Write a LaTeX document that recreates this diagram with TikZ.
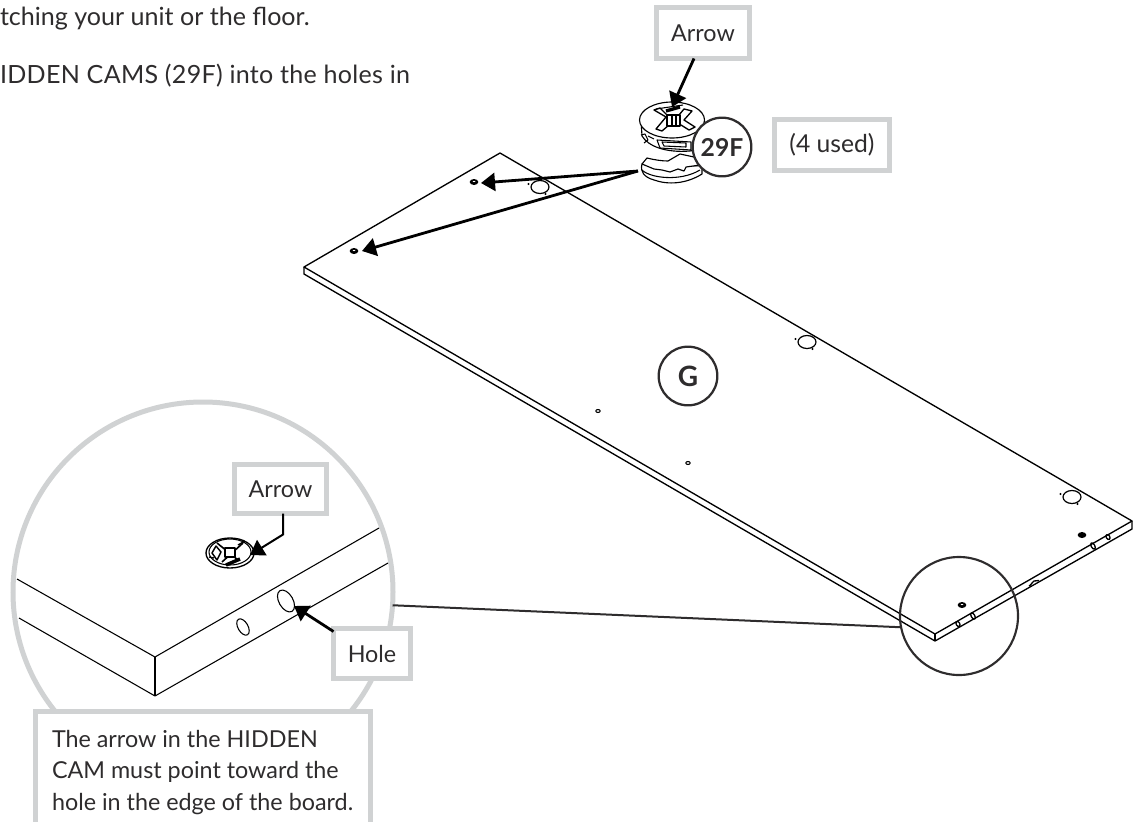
\documentclass[tikz,border=0pt]{standalone}
\usepackage{fontspec}
\setmainfont{Lato}
\usetikzlibrary{arrows.meta,shapes.geometric}
\definecolor{ink}{HTML}{2E2C2D}
\definecolor{boxgrey}{HTML}{D0D2D3}
\tikzset{
  x=0.75pt,y=-0.75pt,
  txt/.style={text=ink,font=\fontsize{17.5pt}{23pt}\selectfont,inner sep=0pt,outer sep=0pt},
  toptxt/.style={txt,font=\fontsize{18.8pt}{23pt}\selectfont},
  lblbox/.style={txt,font=\fontsize{17.5pt}{23pt}\selectfont,draw=boxgrey,line width=3.75pt,fill=white,rectangle,inner sep=0pt,align=center},
  partcirc/.style={circle,draw=ink,line width=1.7pt,fill=white,inner sep=0pt,minimum size=44pt,font=\fontsize{18.5pt}{20pt}\selectfont\bfseries,text=ink},
  board/.style={draw=black,line width=1pt,line join=round},
  detail/.style={draw=black,line width=0.8pt,line join=round},
  pointer/.style={draw=black,line width=2.1pt,-{Triangle[length=10.5pt,width=13.5pt]}},
  cam/.style={draw=black,line width=0.85pt,fill=white,line join=round},
  blackhole/.style={ellipse,fill=black,inner sep=0pt,minimum width=6.5pt,minimum height=4.5pt},
}
\begin{document}
\begin{tikzpicture}
\useasboundingbox (0,0) rectangle (1138,821);
% top text
\node[toptxt,anchor=base west] (lineone) at (0,26) {tching your unit or the floor.};
\node[toptxt,anchor=base west] (linetwo) at (0,83) {\addfontfeature{LetterSpace=1.2}IDDEN CAMS (29F) into the holes in};

% big magnifier
\node[circle,draw=boxgrey,line width=3.75pt,fill=white,minimum size=285pt,inner sep=0pt,outer sep=0pt] (magcircle) at (203,592) {};
\draw[detail] (17,579) -- (155,657) -- (379,528);
\draw[detail] (19,618) -- (155,696) -- (388,563);
\draw[detail] (155,657) -- (155,696);
\draw[detail,rotate around={-60:(286,601)}] (286,601) ellipse (12 and 7);
\draw[detail,rotate around={-60:(243,627)}] (243,627) ellipse (9 and 5);
% magnified cam
\draw[detail,line width=1pt] (230,553) ellipse (24 and 15);
\draw[detail] (230,552) ellipse (21 and 13);
\draw[detail,line width=1.2pt] (217,543) -- (238,560) (243,543) -- (222,562);
\draw[detail,fill=white] (225,548) rectangle (235,557);
\draw[detail,line width=1.1pt] (216,546) -- (212,553) -- (217,560) -- (221,552) -- cycle;
\draw[black,line width=2.6pt] (226,565) -- (240,559);
\draw[black,line width=1pt] (209,557) -- (214,558) (238,545) -- (245,541);
\coordinate (magcamtip) at (250,555);

% board
\draw[board] (304,267) -- (500,153) -- (1132,521) -- (935,634) -- cycle;
\draw[board] (304,267) -- (304,274) -- (935,641) -- (1132,529) -- (1132,521);
\draw[board] (935,634) -- (935,641);
\draw[board] (1029,586.2) .. controls (1032,584) and (1033,581) .. (1034,581) .. controls (1036,581) and (1037,581.5) .. (1039,580.5);
\foreach \hx/\hy in {540/187,807/342,1072/497}{
  \draw[detail,fill=white,line width=0.9pt] (\hx,\hy) ellipse (9 and 6.5);
  \fill[black] (\hx-11.5,\hy-3) circle (1.1);
  \fill[black] (\hx+5.5,\hy+7) circle (1.1);
}
\node[blackhole] (holea) at (474,182) {};
\node[blackhole] (holeb) at (354,251) {};
\node[blackhole] (holec) at (1082,535) {};
\node[blackhole] (holed) at (962,605) {};
\fill[white] (474,181.5) ellipse (1.5 and .7) (354,250.5) ellipse (1.5 and .7) (962,604.5) ellipse (1.5 and .7);
\foreach \hx/\hy in {598/411,688/463}{\draw[detail] (\hx,\hy) ellipse (2.2 and 1.5);}
\foreach \hx/\hy/\rx in {958/624/2.2,973/616/3,1093/546/3,1108/537/2.2}{
  \draw[detail,line width=1pt,rotate around={-60:(\hx,\hy)}] (\hx,\hy) ellipse (\rx+.5 and 1.8);
}
% small ring
\node[circle,draw=ink,line width=1.6pt,minimum size=88.5pt,inner sep=0pt,outer sep=0pt] (zoomring) at (959,616) {};
\draw[draw=ink,line width=1.5pt] (magcircle.-4) -- (zoomring.191.7);

% cam fitting
\draw[cam] (642,164) .. controls (640,172) and (644,177) .. (654,180) .. controls (668,185) and (686,184) .. (702,174) -- (702,166) -- cycle;
\draw[detail] (642,170) .. controls (650,178) and (680,182) .. (700,170);
\draw[cam] (642,164) -- (647,158) .. controls (655,160) and (662,161) .. (668,161) -- (680,154) -- (694,157) -- (700,165) -- (686,167) -- (684,171) -- (678,169) -- (670,172) -- (662,170) -- (654,169) -- cycle;
\draw[cam] (641,120) -- (642,136) .. controls (648,146) and (665,153) .. (690,151) .. controls (698,150) and (702,146) .. (705,140) -- (704,120) -- cycle;
\draw[detail] (657,140) -- (691,142) -- (691,150) -- (660,148) -- cycle;
\draw[detail] (662,142) -- (686,143) -- (686,147) -- (664,146) -- cycle;
\draw[detail] (641,135) -- (645,134) -- (648,140) -- (644,143) (648,136) -- (654,139);
\draw[cam] (672,120) ellipse (32.5 and 18);
\draw[detail,line width=1pt] (654,110) -- (666,117) -- (656,129) -- (662,131) -- (669,125) -- (681,125) -- (689,130) -- (695,127) -- (684,120) -- (692,111) -- (684,109) -- (679,115) -- (667,115) -- (660,108) -- cycle;
\draw[detail,fill=white] (667,115) rectangle (680,126);
\draw[detail] (672,115) -- (672,126) (676,115) -- (676,126);
\draw[black,line width=2.5pt] (666,111) -- (680,107);
\draw[black,line width=.8pt] (656,109) -- (683,105);

% part labels
\node[partcirc] (partcam) at (722,147) {29F};
\node[partcirc] (partg) at (688,376) {\fontsize{21pt}{22pt}\selectfont G};

% label boxes
\node[lblbox,minimum width=69.75pt,minimum height=38.25pt] (arrowtop) at (703,33) {Arrow};
\node[lblbox,minimum width=86.25pt,minimum height=38.25pt] (usedbox) at (832,145) {\fontsize{18.5pt}{23pt}\selectfont (4 used)};
\node[lblbox,minimum width=69pt,minimum height=36.75pt] (arrowmag) at (280.5,489) {Arrow};
\node[lblbox,minimum width=57.75pt,minimum height=37.5pt] (holebox) at (372,653.5) {Hole};
\filldraw[draw=boxgrey,fill=white,line width=3.75pt] (35.5,823) -- (35.5,711.5) -- (370.5,711.5) -- (370.5,823);
\node[txt,anchor=base west] (noteone) at (52,747) {The arrow in the HIDDEN};
\node[txt,anchor=base west] (notetwo) at (52,778) {CAM must point toward the};
\node[txt,anchor=base west] (notethree) at (52,810) {hole in the edge of the board.};

% pointers
\coordinate (camtip) at (672,107);
\coordinate (camorigin) at (638,171);
\coordinate (holetipa) at (481,183);
\coordinate (holetipb) at (362,251);
\coordinate (edgehole) at (294,606);
\draw[pointer] (arrowtop.south) ++(-9,0) -- (camtip);
\draw[pointer] (camorigin) -- (holetipa);
\draw[pointer] (camorigin) -- (holetipb);
\draw[pointer] (holebox.north west) ++(0,3) -- (edgehole);
\draw[pointer,line width=1.5pt,line join=miter] ([xshift=1.9pt]arrowmag.south) -- ++(0,21) -- (magcamtip);
\end{tikzpicture}
\end{document}
